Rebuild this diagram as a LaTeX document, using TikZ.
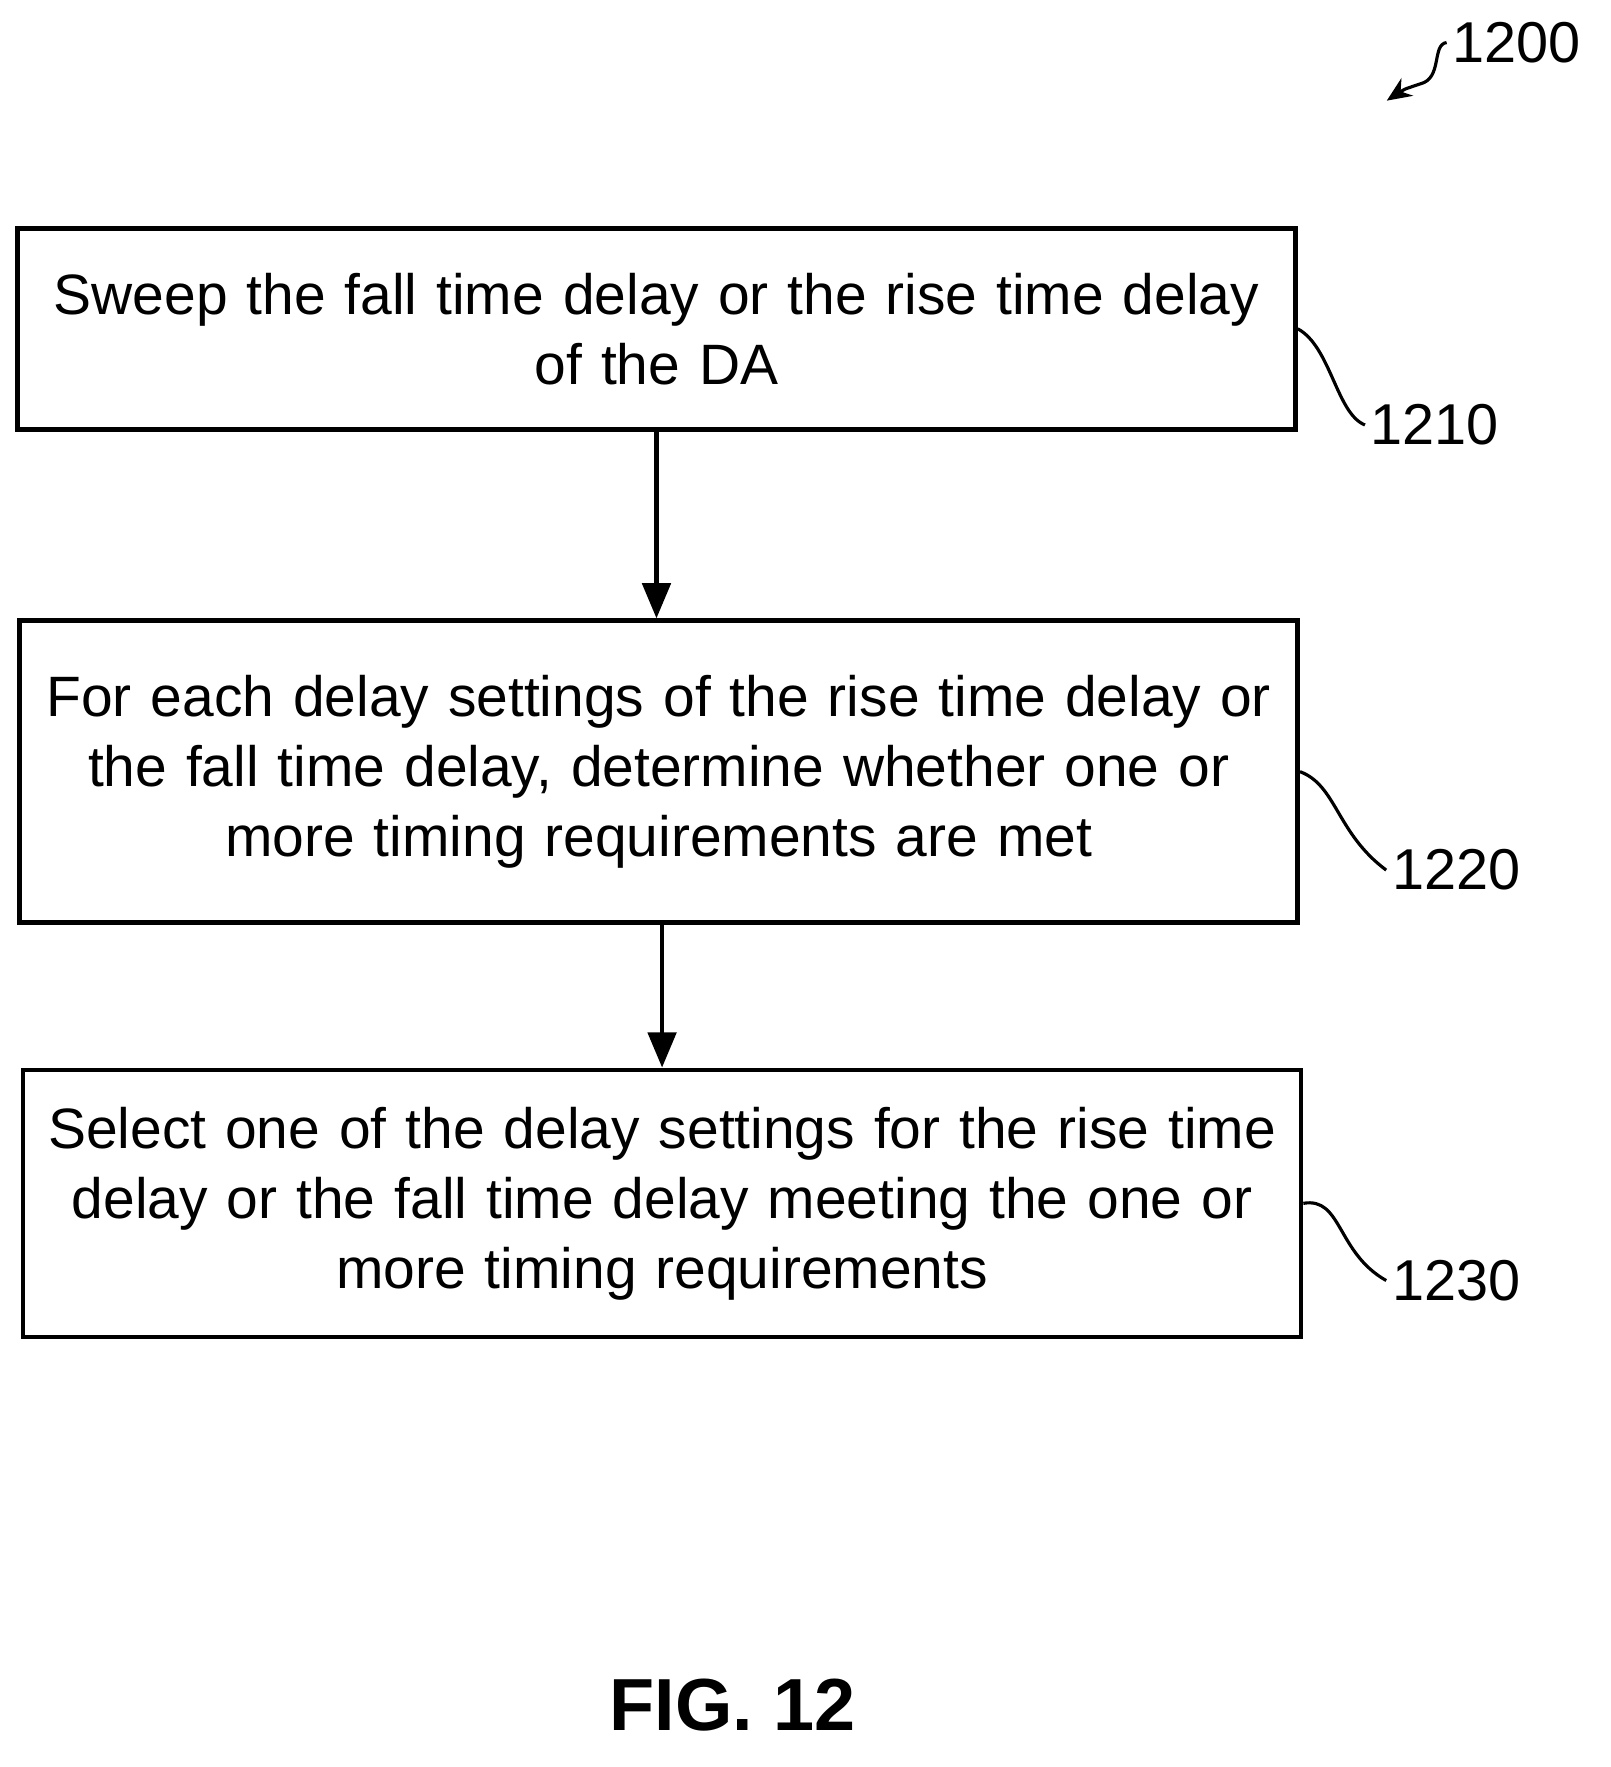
\documentclass[tikz,border=0pt]{standalone}
\usepackage{fontspec}
\setmainfont{Liberation Sans}
\usetikzlibrary{arrows.meta,positioning}

\begin{document}
\begin{tikzpicture}[x=0.01118cm, y=-0.01118cm,
      stepbox/.style={draw=black, line width=1.3pt, align=center,
        font=\fontsize{16.2}{19.9}\selectfont, inner sep=0pt},
      ref/.style={font=\fontsize{16.4}{18}\selectfont, inner sep=1pt},
      leader/.style={line width=0.9pt},
      >={Triangle[length=10pt,width=8pt]}, line width=1.3pt
      ]
  \useasboundingbox (0,0) rectangle (1440,1580);

  \node[stepbox, text width=12.75cm,
        minimum width=12.78cm, minimum height=2.01cm] (s1) at (587,294)
        {Sweep the fall time delay or the rise time delay\\of the DA};
  \node[stepbox, text width=12.75cm, minimum width=12.78cm,
        minimum height=3.02cm] (s2) at (589,690)
        {For each delay settings of the rise time delay or\\the fall time delay, determine whether one or\\more timing requirements are met};
  \node[stepbox, text width=12.75cm, minimum width=12.78cm,
        minimum height=2.67cm] (s3) at (592,1076)
        {Select one of the delay settings for the rise time\\delay or the fall time delay meeting the one or\\more timing requirements};

  % reference numerals
  \node[ref] (r0) at (1356,38) {1200};
  \node[ref] (r1) at (1283,380) {1210};
  \node[ref] (r2) at (1302,778) {1220};
  \node[ref] (r3) at (1302,1145) {1230};
  \node[font=\bfseries\fontsize{21}{24}\selectfont] (fig) at (655,1525) {FIG. 12};

  % Connect the nodes
  \draw[->] (s1.south) -- (s1.south |- s2.north);
  \draw[->] (s3.north |- s2.south) -- (s3.north);

  \draw[leader] (s1.east) .. controls (1190,310) and (1195,370) .. (r1.west);
  \draw[leader] (s2.east) .. controls (1195,702) and (1195,745) .. (r2.west);
  \draw[leader] (s3.east) .. controls (1200,1070) and (1195,1120) .. (r3.west);
  \coordinate (r0tip) at (1240,90);
  \draw[leader, -{Stealth[length=7pt,width=6pt]}] (r0.west) .. controls (1280,40) and (1290,70) .. (1270,75)
        .. controls (1255,80) .. (r0tip);
\end{tikzpicture}
\end{document}
